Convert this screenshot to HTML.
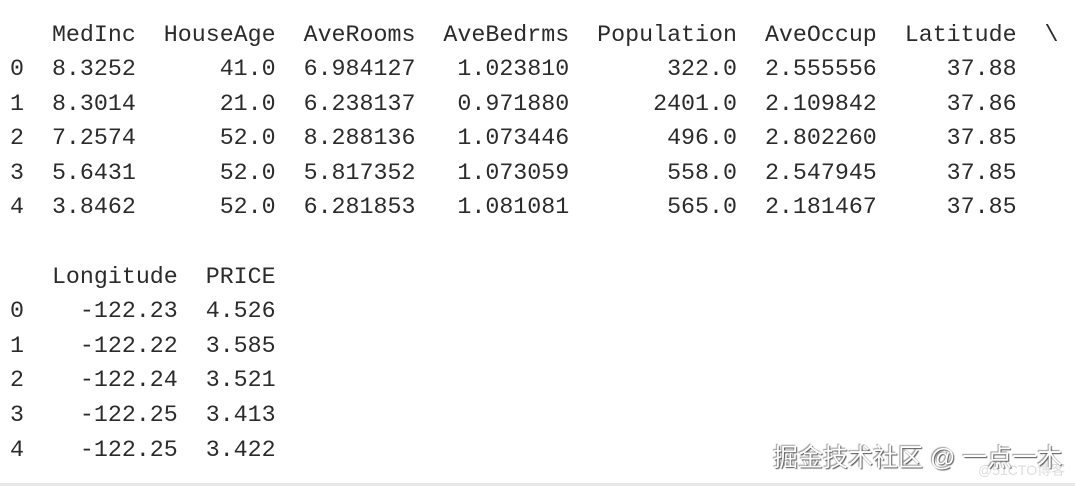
<!DOCTYPE html>
<html><head><meta charset="utf-8"><style>
html,body{margin:0;padding:0;background:#fff;width:1075px;height:486px;overflow:hidden;position:relative}
pre{position:absolute;left:10px;top:17.5px;margin:0;font-family:"Liberation Mono",monospace;font-size:23.3px;line-height:34.6px;color:#2b2b2b;letter-spacing:0}
.wm{position:absolute;left:773px;top:438px;font-family:"Liberation Sans","Noto Sans CJK SC",sans-serif;font-size:25px;color:#fff;text-shadow:1px 1px 1px #555,-1px -1px 1px #999;white-space:nowrap}
.wm2{position:absolute;left:978px;top:460px;font-family:"Liberation Sans","Noto Sans CJK SC",sans-serif;font-size:14px;color:#ddd;white-space:nowrap}
.bl{position:absolute;left:0;top:483px;width:1075px;height:3px;background:#e8e8e8}
</style></head><body>
<pre>   MedInc  HouseAge  AveRooms  AveBedrms  Population  AveOccup  Latitude  \
0  8.3252      41.0  6.984127   1.023810       322.0  2.555556     37.88   
1  8.3014      21.0  6.238137   0.971880      2401.0  2.109842     37.86   
2  7.2574      52.0  8.288136   1.073446       496.0  2.802260     37.85   
3  5.6431      52.0  5.817352   1.073059       558.0  2.547945     37.85   
4  3.8462      52.0  6.281853   1.081081       565.0  2.181467     37.85   

   Longitude  PRICE  
0    -122.23  4.526  
1    -122.22  3.585  
2    -122.24  3.521  
3    -122.25  3.413  
4    -122.25  3.422  </pre>
<div class="wm2">@51CTO博客</div>
<div class="wm">掘金技术社区 @ 一点一木</div>
<div class="bl"></div>
</body></html>
